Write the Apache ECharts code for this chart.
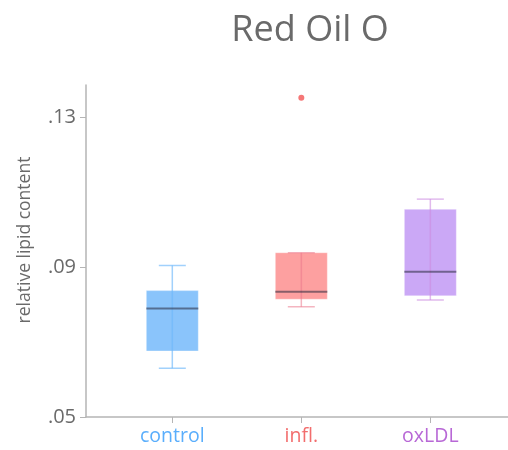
<!DOCTYPE html>
<html><head><meta charset="utf-8">
<script src="https://cdn.jsdelivr.net/npm/echarts@6/dist/echarts.min.js"></script>
<style>html,body{margin:0;padding:0;background:#fff}#c{width:508px;height:450px}</style>
</head><body><div id="c"></div>
<script>
var categories = ['control', 'infl.', 'oxLDL'];
var mins    = [0.0630, 0.0794, 0.0812];
var q1s     = [0.0676, 0.0814, 0.0823];
var medians = [0.0789, 0.0834, 0.0887];
var q3s     = [0.0837, 0.0938, 0.1054];
var maxs    = [0.0904, 0.0938, 0.1081];
var outlierCat = [1];
var outlierVal = [0.1351];
var yTicks = [0.05, 0.09, 0.13];

var boxFill  = ['#8ac4fb', '#fda0a0', '#cba8f6'];
var lineCol  = ['rgba(110,185,250,0.65)', 'rgba(235,120,140,0.55)', 'rgba(205,140,225,0.6)'];
var labelCol = ['#5aaefc', '#f26d6d', '#b868d6'];
var outCol   = ['#5aaefc', '#f25555', '#b868d6'];

var boxData = categories.map(function (c, i) {
  return [i, mins[i], q1s[i], medians[i], q3s[i], maxs[i]];
});
var outData = outlierCat.map(function (c, i) { return [c, outlierVal[i]]; });

var rich = {};
categories.forEach(function (c, i) {
  rich['c' + i] = { color: labelCol[i], fontSize: 19.5, fontFamily: 'Open Sans' };
});

var chart = echarts.init(document.getElementById('c'), null, { renderer: 'canvas' });
chart.setOption({
  animation: false,
  title: {
    text: 'Red Oil O', left: 305, top: 8, textAlign: 'center',
    textStyle: { fontFamily: 'Open Sans', fontSize: 36, fontWeight: 'normal', color: '#6a6a6a' }
  },
  grid: { left: 86, right: 0, top: 85, bottom: 33 },
  xAxis: {
    type: 'value', min: -0.669, max: 2.602,
    splitLine: { show: false },
    axisLine: { show: true, onZero: false, lineStyle: { color: '#b5b5b5', width: 1.5 } },
    axisTick: { show: true, customValues: [0, 1, 2], length: 6, lineStyle: { color: '#b5b5b5' } },
    axisLabel: {
      customValues: [0, 1, 2], margin: 9,
      formatter: function (v) { var i = Math.round(v); return '{c' + i + '|' + categories[i] + '}'; },
      rich: rich
    }
  },
  yAxis: {
    type: 'value', min: 0.05, max: 0.13853,
    name: 'relative lipid content', nameLocation: 'middle', nameGap: 52,
    nameTextStyle: { fontFamily: 'Open Sans', fontSize: 17.5, color: '#6a6a6a', padding: [0, 0, 0, 22] },
    splitLine: { show: false },
    axisLine: { show: true, onZero: false, lineStyle: { color: '#b5b5b5', width: 1.5 } },
    axisTick: { show: true, customValues: yTicks, length: 6, lineStyle: { color: '#b5b5b5' } },
    axisLabel: {
      customValues: yTicks, margin: 10,
      fontFamily: 'Open Sans', fontSize: 20, color: '#6a6a6a',
      formatter: function (v) { return v.toFixed(2).replace(/^0/, ''); }
    }
  },
  series: [{
    type: 'custom',
    data: boxData,
    renderItem: function (params, api) {
      var i = api.value(0);
      var pMin = api.coord([i, api.value(1)]);
      var pQ1 = api.coord([i, api.value(2)]);
      var pMed = api.coord([i, api.value(3)]);
      var pQ3 = api.coord([i, api.value(4)]);
      var pMax = api.coord([i, api.value(5)]);
      var x = pMed[0];
      var bw = 52, cw = 27;
      var idx = params.dataIndex;
      return {
        type: 'group',
        children: [
          { type: 'rect', shape: { x: x - bw / 2, y: pQ3[1], width: bw, height: pQ1[1] - pQ3[1] },
            style: { fill: boxFill[idx], stroke: 'rgba(255,255,255,0.35)', lineWidth: 1 } },
          { type: 'line', shape: { x1: x, y1: pMax[1], x2: x, y2: pMin[1] },
            style: { stroke: lineCol[idx], lineWidth: 1.5 } },
          { type: 'line', shape: { x1: x - cw / 2, y1: pMax[1], x2: x + cw / 2, y2: pMax[1] },
            style: { stroke: lineCol[idx], lineWidth: 1.5 } },
          { type: 'line', shape: { x1: x - cw / 2, y1: pMin[1], x2: x + cw / 2, y2: pMin[1] },
            style: { stroke: lineCol[idx], lineWidth: 1.5 } },
          { type: 'line', shape: { x1: x - bw / 2, y1: pMed[1], x2: x + bw / 2, y2: pMed[1] },
            style: { stroke: 'rgba(40,40,60,0.55)', lineWidth: 2 } }
        ]
      };
    }
  }, {
    type: 'scatter',
    data: outData,
    symbolSize: 6,
    itemStyle: { color: function (p) { return outCol[p.data[0]]; } }
  }]
});
</script></body></html>
